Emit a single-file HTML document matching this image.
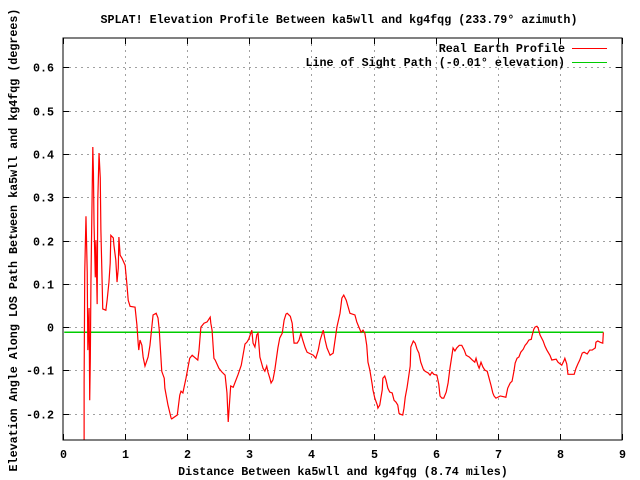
<!DOCTYPE html>
<html><head><meta charset="utf-8"><style>
body{margin:0;background:#fff}
svg{display:block}
text{font-family:"Liberation Mono","DejaVu Sans Mono",monospace;font-size:11.7px;font-weight:bold;fill:#000}
</style></head><body>
<svg id="chart" width="640" height="480" viewBox="0 0 640 480">
<rect width="640" height="480" fill="#fff"/>
<g id="grid"></g>
<g id="ticks"></g>
<text x="339" y="23" text-anchor="middle">SPLAT! Elevation Profile Between ka5wll and kg4fqg (233.79° azimuth)</text>
<text x="343" y="475" text-anchor="middle">Distance Between ka5wll and kg4fqg (8.74 miles)</text>
<text transform="translate(17,240) rotate(-90)" text-anchor="middle">Elevation Angle Along LOS Path Between ka5wll and kg4fqg (degrees)</text>
<g id="series"></g>
<rect x="63" y="38" width="559" height="402" fill="none" stroke="#000" stroke-width="1"/>
<g>
<text x="565" y="52" text-anchor="end">Real Earth Profile</text>
<line x1="572" y1="48.5" x2="607" y2="48.5" stroke="#f00"/>
<text x="565" y="66" text-anchor="end">Line of Sight Path (-0.01° elevation)</text>
<line x1="572" y1="62.5" x2="607" y2="62.5" stroke="#0c0"/>
</g>
</svg>
<script>
const xTicks=[0,1,2,3,4,5,6,7,8,9];
const yTicks=[-0.2,-0.1,0,0.1,0.2,0.3,0.4,0.5,0.6];
const yTickLabels=["-0.2","-0.1","0","0.1","0.2","0.3","0.4","0.5","0.6"];
const profileMiles=[0.34,0.34,0.35,0.37,0.39,0.40,0.42,0.43,0.44,0.45,0.47,0.48,0.49,0.50,0.52,0.53,0.55,0.56,0.58,0.60,0.61,0.63,0.64,0.69,0.71,0.74,0.76,0.77,0.81,0.82,0.85,0.87,0.89,0.90,0.92,0.95,1.00,1.03,1.05,1.08,1.16,1.19,1.21,1.22,1.24,1.27,1.29,1.32,1.37,1.40,1.45,1.50,1.53,1.55,1.59,1.63,1.64,1.69,1.74,1.75,1.84,1.88,1.90,1.93,1.98,2.04,2.08,2.17,2.19,2.22,2.27,2.32,2.37,2.38,2.40,2.43,2.45,2.51,2.56,2.61,2.64,2.66,2.70,2.74,2.82,2.87,2.93,2.96,2.99,3.04,3.06,3.09,3.12,3.14,3.17,3.22,3.25,3.28,3.30,3.33,3.35,3.38,3.41,3.46,3.49,3.53,3.56,3.59,3.61,3.66,3.69,3.70,3.72,3.77,3.80,3.83,3.86,3.90,3.93,4.03,4.07,4.11,4.14,4.19,4.22,4.25,4.30,4.35,4.38,4.41,4.46,4.49,4.52,4.56,4.62,4.70,4.73,4.77,4.80,4.83,4.86,4.89,4.91,4.94,4.98,4.99,5.02,5.06,5.07,5.10,5.12,5.14,5.15,5.18,5.20,5.23,5.26,5.30,5.33,5.36,5.39,5.41,5.43,5.47,5.49,5.51,5.54,5.59,5.60,5.64,5.67,5.70,5.73,5.76,5.80,5.83,5.88,5.91,5.94,5.97,6.02,6.05,6.07,6.10,6.13,6.17,6.20,6.23,6.26,6.28,6.31,6.34,6.38,6.42,6.46,6.49,6.54,6.59,6.63,6.65,6.68,6.70,6.73,6.76,6.79,6.83,6.86,6.89,6.92,6.94,6.97,7.00,7.04,7.13,7.16,7.20,7.23,7.26,7.28,7.31,7.34,7.37,7.41,7.44,7.47,7.50,7.54,7.55,7.58,7.60,7.63,7.65,7.68,7.73,7.76,7.79,7.84,7.87,7.94,7.97,8.03,8.07,8.08,8.11,8.13,8.23,8.26,8.29,8.32,8.36,8.39,8.44,8.48,8.52,8.57,8.58,8.61,8.65,8.69,8.70];
const profileDeg=[-0.261,-0.129,0.127,0.256,0.127,-0.053,0.044,-0.169,-0.072,0.106,0.316,0.416,0.356,0.236,0.115,0.201,0.053,0.293,0.402,0.344,0.224,0.104,0.042,0.039,0.062,0.104,0.148,0.212,0.206,0.189,0.155,0.104,0.136,0.208,0.166,0.159,0.143,0.097,0.062,0.048,0.046,0.005,-0.037,-0.053,-0.030,-0.042,-0.069,-0.090,-0.069,-0.042,0.028,0.032,0.021,-0.007,-0.102,-0.118,-0.141,-0.180,-0.210,-0.212,-0.203,-0.157,-0.148,-0.152,-0.118,-0.072,-0.065,-0.076,-0.053,0.000,0.009,0.012,0.023,0.009,-0.007,-0.072,-0.076,-0.095,-0.104,-0.111,-0.152,-0.219,-0.136,-0.139,-0.109,-0.088,-0.039,-0.035,-0.028,-0.007,-0.037,-0.046,-0.018,-0.014,-0.069,-0.095,-0.102,-0.090,-0.104,-0.118,-0.129,-0.122,-0.099,-0.048,-0.025,-0.014,0.016,0.030,0.032,0.025,0.009,-0.007,-0.037,-0.037,-0.030,-0.014,-0.030,-0.048,-0.058,-0.065,-0.072,-0.053,-0.030,-0.007,-0.030,-0.048,-0.065,-0.060,-0.030,0.000,0.032,0.067,0.074,0.062,0.032,0.028,0.012,-0.002,-0.012,-0.007,-0.014,-0.042,-0.081,-0.099,-0.134,-0.145,-0.164,-0.180,-0.187,-0.180,-0.162,-0.145,-0.118,-0.113,-0.122,-0.141,-0.150,-0.152,-0.169,-0.173,-0.180,-0.199,-0.201,-0.203,-0.187,-0.162,-0.139,-0.090,-0.046,-0.032,-0.037,-0.051,-0.060,-0.081,-0.097,-0.102,-0.106,-0.111,-0.104,-0.109,-0.111,-0.132,-0.159,-0.164,-0.164,-0.150,-0.129,-0.095,-0.067,-0.048,-0.055,-0.048,-0.042,-0.042,-0.053,-0.065,-0.069,-0.076,-0.081,-0.072,-0.088,-0.095,-0.081,-0.092,-0.099,-0.102,-0.118,-0.134,-0.152,-0.159,-0.164,-0.162,-0.159,-0.162,-0.141,-0.129,-0.125,-0.102,-0.083,-0.072,-0.069,-0.058,-0.051,-0.042,-0.037,-0.030,-0.028,-0.021,-0.005,0.000,0.002,-0.002,-0.018,-0.032,-0.044,-0.053,-0.065,-0.076,-0.074,-0.081,-0.088,-0.076,-0.072,-0.085,-0.109,-0.109,-0.095,-0.085,-0.076,-0.060,-0.058,-0.062,-0.053,-0.053,-0.048,-0.035,-0.032,-0.035,-0.037,-0.012];
const losMiles=[0.02,8.70];
const losDeg=[-0.012,-0.012];

const X0=63,X1=622,Y0=440,Y1=38,XMIN=0,XMAX=9,YMIN=-0.2607,YMAX=0.6677;
function sx(v){return X0+(v-XMIN)/(XMAX-XMIN)*(X1-X0);}
function sy(v){return Y0-(v-YMIN)/(YMAX-YMIN)*(Y0-Y1);}
const NS="http://www.w3.org/2000/svg";
function mk(tag,attrs,parent){const e=document.createElementNS(NS,tag);for(const k in attrs)e.setAttribute(k,attrs[k]);parent.appendChild(e);return e;}
const grid=document.getElementById('grid'),ticks=document.getElementById('ticks'),series=document.getElementById('series');
xTicks.forEach((t,i)=>{
  const x=Math.round(sx(t))+0.5;
  if(i>0&&i<xTicks.length-1){
    const g=mk('line',{x1:x,x2:x,y1:Y1,y2:Y0,stroke:'#a0a0a0','stroke-dasharray':'2,4'},grid);
    
    
  }
  const a=mk('line',{x1:x,x2:x,y1:Y0,y2:Y0-6,stroke:'#000'},ticks);
  
  
  const b=mk('line',{x1:x,x2:x,y1:Y1,y2:Y1+6,stroke:'#000'},ticks);
  
  
  const l=mk('text',{x:x,y:458,'text-anchor':'middle'},ticks);
  l.textContent=String(t);
  
  
});
yTicks.forEach((t,i)=>{
  const y=Math.round(sy(t))+0.5;
  const g=mk('line',{x1:X0,x2:X1,y1:y,y2:y,stroke:'#a0a0a0','stroke-dasharray':'2,4'},grid);
  
  
  const a=mk('line',{x1:X0,x2:X0+6,y1:y,y2:y,stroke:'#000'},ticks);
  
  
  const b=mk('line',{x1:X1-6,x2:X1,y1:y,y2:y,stroke:'#000'},ticks);
  
  
  const l=mk('text',{x:54,y:y+4,'text-anchor':'end'},ticks);
  l.textContent=yTickLabels[i];
  
  
});
const los=mk('polyline',{points:losMiles.map((m,i)=>sx(m)+','+sy(losDeg[i])).join(' '),fill:'none',stroke:'#0c0','stroke-width':1.5},series);


const prof=mk('polyline',{points:profileMiles.map((m,i)=>sx(m)+','+sy(profileDeg[i])).join(' '),fill:'none',stroke:'#f00','stroke-width':1.2},series);


</script>
</body></html>
